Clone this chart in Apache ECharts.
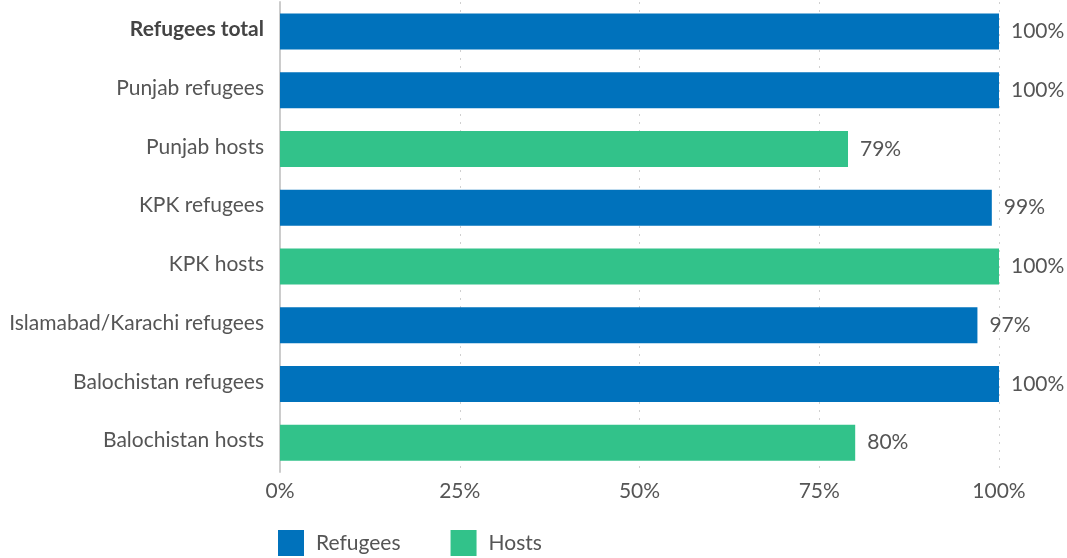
<!DOCTYPE html>
<html>
<head>
<meta charset="utf-8">
<script src="https://cdn.jsdelivr.net/npm/echarts@6/dist/echarts.min.js"></script>
<style>
  html, body { margin: 0; padding: 0; background: #fff; }
  #chart { width: 1067px; height: 558px; }
</style>
</head>
<body>
<div id="chart"></div>
<script>
var categories = ['Refugees total', 'Punjab refugees', 'Punjab hosts', 'KPK refugees', 'KPK hosts',
    'Islamabad/Karachi refugees', 'Balochistan refugees', 'Balochistan hosts'];
var refugeesValues = [100, 100, '-', 99, '-', 97, 100, '-'];
var hostsValues = ['-', '-', 79, '-', 100, '-', '-', 80];
var xTicks = [0, 25, 50, 75, 100];

var textColor = '#555';
var fontFamily = 'Lato, sans-serif';
var fontSize = 21;

var chart = echarts.init(document.getElementById('chart'));

// label for each bar, right of the bar end
var barLabel = {
    show: true,
    position: 'right',
    distance: 12,
    padding: [3, 0, 0, 0],
    color: textColor,
    fontFamily: fontFamily,
    fontSize: fontSize,
    formatter: '{c}%'
};

var option = {
    animation: false,
    grid: {
        left: 280,
        right: 68,
        top: 2,
        bottom: 86
    },
    legend: {
        data: ['Refugees', 'Hosts'],
        left: 273,
        top: 525,
        itemWidth: 26,
        itemHeight: 26,
        itemGap: 50,
        icon: 'rect',
        textStyle: {
            color: textColor,
            fontFamily: fontFamily,
            fontSize: fontSize,
            padding: [0, 0, 0, 7]
        }
    },
    xAxis: {
        type: 'value',
        min: xTicks[0],
        max: xTicks[xTicks.length - 1],
        interval: 25,
        axisLine: { show: false },
        axisTick: { show: false },
        splitLine: {
            show: true,
            lineStyle: { color: '#d0d0d0', type: [2, 6], width: 1 }
        },
        axisLabel: {
            color: textColor,
            fontFamily: fontFamily,
            fontSize: fontSize,
            margin: 9,
            formatter: '{value}%'
        }
    },
    yAxis: {
        type: 'category',
        inverse: true,
        data: categories,
        axisLine: { show: true, lineStyle: { color: '#cccccc', width: 2 } },
        axisTick: { show: false },
        axisLabel: {
            margin: 16,
            padding: [0, 0, 4, 0],
            color: textColor,
            fontFamily: fontFamily,
            fontSize: fontSize,
            formatter: function(value) {
                if (value === 'Refugees total') {
                    return '{b|' + value + '}';
                }
                return value;
            },
            rich: {
                b: {
                    fontWeight: 'bold',
                    color: '#444',
                    fontFamily: fontFamily,
                    fontSize: fontSize
                }
            }
        }
    },
    series: [{
        name: 'Refugees',
        type: 'bar',
        stack: 'all',
        barWidth: 36,
        itemStyle: { color: '#0072BC' },
        label: barLabel,
        data: refugeesValues
    }, {
        name: 'Hosts',
        type: 'bar',
        stack: 'all',
        barWidth: 36,
        itemStyle: { color: '#32C28A' },
        label: barLabel,
        data: hostsValues
    }]
};
chart.setOption(option);
</script>
</body>
</html>
